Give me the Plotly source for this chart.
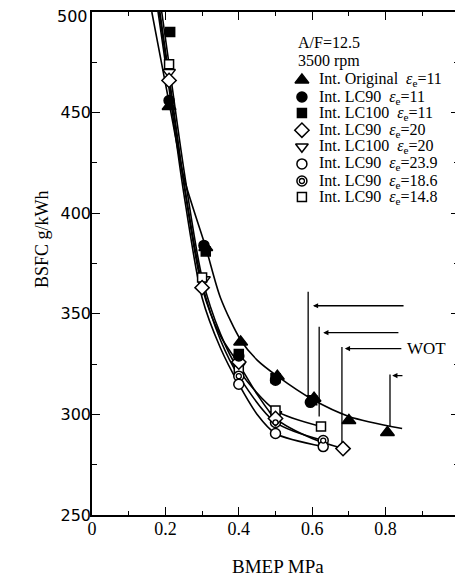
import plotly.graph_objects as go

# ---------------- data ----------------
# measured points
orig11_x = [0.21, 0.31, 0.405, 0.505, 0.605, 0.70, 0.805]
orig11_y = [453, 383, 336, 319, 308, 297, 291]

lc90_11_x = [0.21, 0.305, 0.40, 0.50, 0.595]
lc90_11_y = [456, 384, 329, 317, 306]

lc100_11_x = [0.213, 0.31, 0.40, 0.50, 0.60]
lc100_11_y = [490, 381, 330, 318, 307]

lc90_20_x = [0.21, 0.30, 0.40, 0.50, 0.684]
lc90_20_y = [466, 363, 326, 298, 283]

lc100_20_x = [0.21, 0.305, 0.40, 0.50]
lc100_20_y = [470, 367, 324, 300]

lc90_239_x = [0.40, 0.50, 0.63]
lc90_239_y = [315, 290.5, 284]

lc90_186_x = [0.40, 0.50, 0.63]
lc90_186_y = [319, 296, 287]

lc90_148_x = [0.21, 0.30, 0.40, 0.50, 0.624]
lc90_148_y = [474, 368, 322, 302, 294]

# fitted curves drawn in the chart
curve_upper_x = [0.163, 0.21, 0.25, 0.31, 0.35, 0.405, 0.45, 0.505, 0.60, 0.70, 0.845]
curve_upper_y = [500, 455, 418, 383, 358, 337, 327, 319, 307.5, 299, 293]

curve_d20_x = [0.183, 0.21, 0.25, 0.30, 0.35, 0.40, 0.45, 0.50, 0.60, 0.684]
curve_d20_y = [500, 466, 415, 363, 339, 325, 310, 298, 288, 283]

curve_c239_x = [0.18, 0.21, 0.25, 0.30, 0.35, 0.40, 0.45, 0.50, 0.63]
curve_c239_y = [500, 462, 410, 358, 333, 315, 300, 290.5, 284]

curve_c186_x = [0.185, 0.21, 0.25, 0.30, 0.35, 0.40, 0.50, 0.63]
curve_c186_y = [500, 468, 416, 365, 337, 319, 296, 287]

curve_s148_x = [0.19, 0.21, 0.25, 0.30, 0.35, 0.40, 0.50, 0.624]
curve_s148_y = [500, 474, 422, 368, 340, 322, 302, 294]

# WOT markers
wot_vx = [0.589, 0.619, 0.681, 0.812]
wot_vy_top = [361, 343.6, 333.5, 319.8]
wot_vy_bot = [306.5, 299, 286, 294]
wot_arrow_y = [354, 340.6, 332.7, 319.3]
wot_tail_x = [0.853, 0.839, 0.847, 0.85]
wot_head_x = [0.602, 0.63, 0.689, 0.818]
wot_label = "WOT"

# legend
legend_header = ["A/F=12.5", "3500 rpm"]
legend_names = [
    "Int. Original\u00a0\u00a0<i>ε</i><sub>e</sub>=11",
    "Int. LC90\u00a0\u00a0<i>ε</i><sub>e</sub>=11",
    "Int. LC100\u00a0\u00a0<i>ε</i><sub>e</sub>=11",
    "Int. LC90\u00a0\u00a0<i>ε</i><sub>e</sub>=20",
    "Int. LC100\u00a0\u00a0<i>ε</i><sub>e</sub>=20",
    "Int. LC90\u00a0\u00a0<i>ε</i><sub>e</sub>=23.9",
    "Int. LC90\u00a0\u00a0<i>ε</i><sub>e</sub>=18.6",
    "Int. LC90\u00a0\u00a0<i>ε</i><sub>e</sub>=14.8",
]

x_ticks = [0, 0.2, 0.4, 0.6, 0.8, 1]
y_ticks = [250, 300, 350, 400, 450, 500]

# ---------------- figure ----------------
SERIF = "Liberation Serif"
fig = go.Figure()

line_style = dict(color="black", width=1.6, shape="spline", smoothing=0.8)
for cx, cy in [(curve_upper_x, curve_upper_y), (curve_d20_x, curve_d20_y),
               (curve_c239_x, curve_c239_y), (curve_c186_x, curve_c186_y),
               (curve_s148_x, curve_s148_y)]:
    fig.add_trace(go.Scatter(x=cx, y=cy, mode="lines", line=line_style,
                             hoverinfo="skip", showlegend=False))

OL = dict(color="black", width=1.5)
series = [
    (lc100_20_x, lc100_20_y, "triangle-down", 11, "white"),
    (lc90_148_x, lc90_148_y, "square", 9, "white"),
    (lc90_186_x, lc90_186_y, "circle", 10, "white"),
    (lc90_239_x, lc90_239_y, "circle", 10, "white"),
    (lc90_20_x, lc90_20_y, "diamond", 11, "white"),
    (lc100_11_x, lc100_11_y, "square", 9, "black"),
    (lc90_11_x, lc90_11_y, "circle", 10, "black"),
    (orig11_x, orig11_y, "triangle-up", 12, "black"),
]
for sx, sy, sym, sz, fc in series:
    fig.add_trace(go.Scatter(x=sx, y=sy, mode="markers", showlegend=False,
                             marker=dict(symbol=sym, size=sz, color=fc, line=OL)))
# inner ring of the double circle
fig.add_trace(go.Scatter(x=lc90_186_x, y=lc90_186_y, mode="markers", showlegend=False,
                         marker=dict(symbol="circle", size=5, color="white",
                                     line=dict(color="black", width=1.3))))

# WOT lines and arrows
shapes = []
annotations = []
for vx, yt, yb in zip(wot_vx, wot_vy_top, wot_vy_bot):
    shapes.append(dict(type="line", xref="x", yref="y", x0=vx, x1=vx, y0=yb, y1=yt,
                       line=dict(color="black", width=1.3)))
for ay, tx, hx in zip(wot_arrow_y, wot_tail_x, wot_head_x):
    annotations.append(dict(x=hx, y=ay, ax=tx, ay=ay, xref="x", yref="y",
                            axref="x", ayref="y", text="", showarrow=True,
                            arrowhead=2, arrowsize=0.8, arrowwidth=1.3,
                            arrowcolor="black", standoff=0, startstandoff=0))
annotations.append(dict(x=wot_tail_x[2] + 0.005, y=wot_arrow_y[2], xref="x", yref="y",
                        text=wot_label, showarrow=False, xanchor="left", yanchor="middle",
                        font=dict(family=SERIF, size=17, color="black")))

# legend (manual) on an overlay axis with [0,1] range
leg_x_marker = 0.572
leg_x_text = 0.613
leg_rows_y = [0.865, 0.831, 0.799, 0.765, 0.732, 0.698, 0.664, 0.632]
leg_syms = [("triangle-up", 12, "black"), ("circle", 10, "black"), ("square", 9, "black"),
            ("diamond", 11, "white"), ("triangle-down", 11, "white"), ("circle", 10, "white"),
            ("circle", 10, "white"), ("square", 9, "white")]
for (sym, sz, fc), yy in zip(leg_syms, leg_rows_y):
    fig.add_trace(go.Scatter(x=[leg_x_marker], y=[yy], xaxis="x2", yaxis="y2",
                             mode="markers", showlegend=False, hoverinfo="skip",
                             marker=dict(symbol=sym, size=sz, color=fc, line=OL)))
fig.add_trace(go.Scatter(x=[leg_x_marker], y=[leg_rows_y[6]], xaxis="x2", yaxis="y2",
                         mode="markers", showlegend=False, hoverinfo="skip",
                         marker=dict(symbol="circle", size=5, color="white",
                                     line=dict(color="black", width=1.3))))
for txt, yy in zip(legend_names, leg_rows_y):
    annotations.append(dict(x=leg_x_text, y=yy, xref="paper", yref="paper", text=txt,
                            showarrow=False, xanchor="left", yanchor="middle",
                            font=dict(family=SERIF, size=16, color="black")))
for txt, yy in zip(legend_header, [0.940, 0.903]):
    annotations.append(dict(x=0.556, y=yy, xref="paper", yref="paper", text=txt,
                            showarrow=False, xanchor="left", yanchor="middle",
                            font=dict(family=SERIF, size=16, color="black")))

# the top y tick label sits a little below its tick (it would be cut by the page edge)
YFONT = dict(family="DejaVu Sans", size=16, color="black")
y_ticktext = ["" if v == y_ticks[-1] else str(v) for v in y_ticks]
annotations.append(dict(x=-0.005, y=y_ticks[-1], xref="paper", yref="y", text=str(y_ticks[-1]),
                        showarrow=False, xanchor="right", yanchor="middle", yshift=-4,
                        font=YFONT))

# axis titles
annotations.append(dict(x=0.507, y=-0.103, xref="paper", yref="paper", text="BMEP MPa",
                        showarrow=False, xanchor="center", yanchor="middle",
                        font=dict(family=SERIF, size=19, color="black")))
annotations.append(dict(x=-0.136, y=0.549, xref="paper", yref="paper", text="BSFC g/kWh",
                        showarrow=False, xanchor="center", yanchor="middle", textangle=-90,
                        font=dict(family=SERIF, size=18, color="black")))

axis_common = dict(showline=True, linecolor="black", linewidth=1.5, mirror="allticks",
                   ticks="inside", tickcolor="black", tickwidth=1.3, ticklen=8,
                   showgrid=False, zeroline=False, automargin=False)
# the page body has an 8px margin, so the figure is sized to fit inside the window
fig.update_layout(
    width=455, height=571,
    margin=dict(l=84, r=4, t=4, b=64),
    paper_bgcolor="white", plot_bgcolor="white",
    showlegend=False,
    xaxis=dict(range=[0, 1], tickvals=x_ticks, ticktext=[f"{v:g}" for v in x_ticks],
               tickfont=dict(family=SERIF, size=18, color="black"),
               ticklabelstandoff=-3, ticklabeloverflow="allow",
               minor=dict(dtick=0.1, ticks="inside", ticklen=4, tickcolor="black", tickwidth=1.2),
               **axis_common),
    yaxis=dict(range=[250, 500], tickvals=y_ticks, ticktext=y_ticktext,
               tickfont=YFONT, ticklabelstandoff=-4, ticklabeloverflow="allow",
               minor=dict(dtick=25, ticks="inside", ticklen=5, tickcolor="black", tickwidth=1.2),
               **axis_common),
    xaxis2=dict(overlaying="x", range=[0, 1], visible=False, anchor="y2"),
    yaxis2=dict(overlaying="y", range=[0, 1], visible=False, anchor="x2"),
    shapes=shapes,
    annotations=annotations,
)

fig.write_html("out.html")
